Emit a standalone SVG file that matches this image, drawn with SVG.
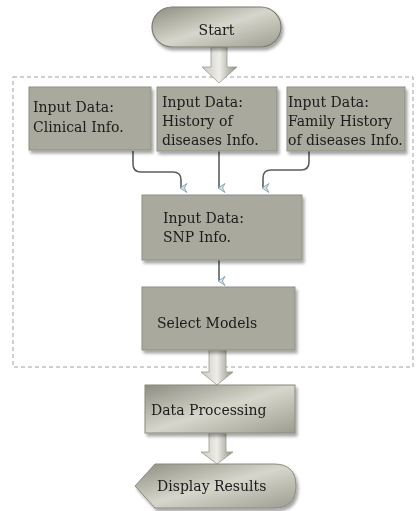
<svg xmlns="http://www.w3.org/2000/svg" width="417" height="511" viewBox="0 0 417 511">
<style>
.box{fill:#a9aa9d;stroke:#8f9084;stroke-width:1}
.t{font-family:"DejaVu Serif","Liberation Serif",serif;font-size:14px;fill:#1a1a1a}
.con{fill:none;stroke:#5a5f62;stroke-width:1.6}
.barrow{fill:url(#ga);stroke:#9a9a8e;stroke-width:0.8}
.dash{fill:none;stroke:#a0a0a0;stroke-width:1;stroke-dasharray:4,3}
</style>
<defs>
<filter id="sh" x="-10%" y="-10%" width="130%" height="140%">
<feDropShadow dx="2" dy="3" stdDeviation="1.5" flood-color="#000" flood-opacity="0.35"/>
</filter>
<linearGradient id="gs" x1="0" y1="0" x2="1" y2="1">
<stop offset="0" stop-color="#8d8d80"/>
<stop offset="0.5" stop-color="#d6d6cc"/>
<stop offset="1" stop-color="#9c9c8f"/>
</linearGradient>
<linearGradient id="ga" x1="0" y1="0" x2="1" y2="0">
<stop offset="0" stop-color="#c8c8bf"/>
<stop offset="0.5" stop-color="#eeeee8"/>
<stop offset="1" stop-color="#8e8e82"/>
</linearGradient>
<marker id="ah" markerWidth="10" markerHeight="10" refX="5" refY="7" orient="auto-start-reverse" markerUnits="userSpaceOnUse">
<path d="M0.5,1 L5,8 L9.5,1 L5,3.5 Z" fill="#cfe3ea" stroke="#7f99a3" stroke-width="0.8"/>
</marker>
</defs>
<rect class="dash" x="13" y="77" width="400" height="290"/>
<g id="connectors">
<path class="barrow" d="M211,47 L227,47 L227,67 L237,67 L219,83 L202,67 L211,67 Z"/>
<path class="con" d="M133,151 L133,164 Q133,172 141,172 L173,172 Q181,172 181,180 L181,188" marker-end="url(#ah)"/>
<path class="con" d="M219,151 L219,188" marker-end="url(#ah)"/>
<path class="con" d="M309,151 L309,162 Q309,170 301,170 L271,170 Q263,170 263,178 L263,188" marker-end="url(#ah)"/>
<path class="con" d="M219,260 L219,281" marker-end="url(#ah)"/>
<path class="barrow" d="M209,350 L226,350 L226,372 L233,372 L217,385 L201,372 L209,372 Z"/>
<path class="barrow" d="M209,433 L226,433 L226,452 L233,452 L217,464 L201,452 L209,452 Z"/>
</g>
<g id="start" filter="url(#sh)">
<rect x="152" y="7" width="129" height="40" rx="20" fill="url(#gs)" stroke="#7a7a70" stroke-width="1.2"/>
<text class="t" x="216.5" y="35" text-anchor="middle">Start</text>
</g>
<g id="clinical" filter="url(#sh)">
<rect class="box" x="29" y="87" width="122" height="63"/>
<text class="t" x="33" y="112">Input Data:</text>
<text class="t" x="33" y="132">Clinical Info.</text>
</g>
<g id="history" filter="url(#sh)">
<rect class="box" x="157" y="87" width="120" height="64"/>
<text class="t" x="162" y="107">Input Data:</text>
<text class="t" x="162" y="126">History of</text>
<text class="t" x="162" y="145">diseases Info.</text>
</g>
<g id="family" filter="url(#sh)">
<rect class="box" x="287" y="87" width="118" height="64"/>
<text class="t" x="288" y="107">Input Data:</text>
<text class="t" x="288" y="126">Family History</text>
<text class="t" x="288" y="145">of diseases Info.</text>
</g>
<g id="snp" filter="url(#sh)">
<rect class="box" x="142" y="195" width="160" height="65"/>
<text class="t" x="163" y="223">Input Data:</text>
<text class="t" x="163" y="242">SNP Info.</text>
</g>
<g id="select" filter="url(#sh)">
<rect class="box" x="142" y="287" width="153" height="63"/>
<text class="t" x="157" y="328">Select Models</text>
</g>
<g id="processing" filter="url(#sh)">
<rect x="145" y="385" width="150" height="48" fill="url(#gs)" stroke="#8a8a7e" stroke-width="1"/>
<text class="t" x="151" y="415">Data Processing</text>
</g>
<g id="display" filter="url(#sh)">
<path d="M135,486 L155,464 L274,464 Q296,464 296,486 Q296,508 274,508 L155,508 Z" fill="url(#gs)" stroke="#8a8a7e" stroke-width="1"/>
<text class="t" x="157" y="491">Display Results</text>
</g>
</svg>
